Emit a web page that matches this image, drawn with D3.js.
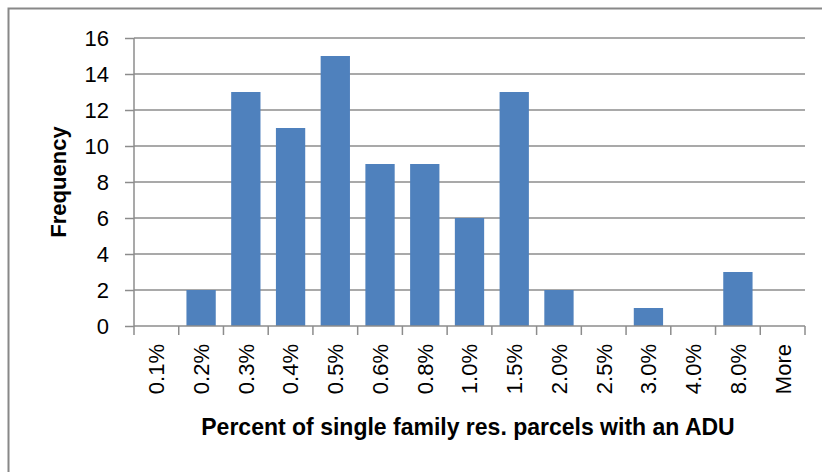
<!DOCTYPE html>
<html><head><meta charset="utf-8">
<script src="https://cdn.jsdelivr.net/npm/d3@7"></script>
<style>body{margin:0;background:#fff}svg{display:block}text{font-family:"Liberation Sans",Arial,sans-serif;fill:#000}</style>
</head><body><svg id="c" width="822" height="472"></svg>
<script>
const categories = ["0.1%","0.2%","0.3%","0.4%","0.5%","0.6%","0.8%","1.0%","1.5%","2.0%","2.5%","3.0%","4.0%","8.0%","More"];
const frequency = [0,2,13,11,15,9,9,6,13,2,0,1,0,3,0];
const yTicks = [0,2,4,6,8,10,12,14,16];
const xTitle = "Percent of single family res. parcels with an ADU";
const yTitle = "Frequency";

const svg = d3.select("#c");
const m = {l:134, r:805, t:38, b:326};
svg.append("rect").attr("x",8.5).attr("y",8.5).attr("width",900).attr("height",900)
  .attr("fill","none").attr("stroke","#888").attr("stroke-width",2);

const x = d3.scaleBand().domain(categories).range([m.l,m.r]).paddingInner(0.345).paddingOuter(0.1725);
const xb = d3.scaleBand().domain(categories).range([m.l,m.r]);
const y = d3.scaleLinear().domain([0,16]).range([m.b,m.t]);

svg.append("g").selectAll("line").data(yTicks.filter(d=>d>0)).join("line")
  .attr("x1",m.l).attr("x2",m.r).attr("y1",d=>y(d)).attr("y2",d=>y(d))
  .attr("stroke","#8c8c8c").attr("stroke-width",1.5);

svg.append("g").selectAll("rect").data(categories.map((c,i)=>({c,v:frequency[i]}))).join("rect")
  .attr("x",d=>x(d.c)).attr("width",x.bandwidth())
  .attr("y",d=>y(d.v)).attr("height",d=>y(0)-y(d.v))
  .attr("fill","#4f81bd");

const ya = svg.append("g").attr("transform",`translate(${m.l},0)`)
  .call(d3.axisLeft(y).tickValues(yTicks).tickSize(9).tickPadding(16).tickFormat(d3.format("d")));
ya.select(".domain").attr("stroke","#8c8c8c").attr("stroke-width",1.5).attr("d",`M0,${m.t}V${m.b}`);
ya.selectAll(".tick line").attr("stroke","#8c8c8c").attr("stroke-width",1.5);
ya.selectAll("text").style("font-family","Liberation Sans").style("font-size","22px").attr("dy","0.36em");

const xa = svg.append("g").attr("transform",`translate(0,${m.b})`)
  .call(d3.axisBottom(xb).tickSize(0).tickFormat(d=>d));
xa.select(".domain").attr("stroke","#8c8c8c").attr("stroke-width",1.5).attr("d",`M${m.l},0H${m.r}`);
xa.selectAll(".tick line").remove();
svg.append("g").selectAll("line").data(d3.range(categories.length+1)).join("line")
  .attr("x1",i=>m.l+i*xb.step()).attr("x2",i=>m.l+i*xb.step())
  .attr("y1",m.b).attr("y2",m.b+9).attr("stroke","#8c8c8c").attr("stroke-width",1.5);
xa.selectAll(".tick text").attr("transform","rotate(-90)").attr("text-anchor","end")
  .attr("x",-18).attr("y",0).attr("dy","0.36em")
  .style("font-family","Liberation Sans").style("font-size","22px");

svg.append("text").attr("x",468).attr("y",435).attr("text-anchor","middle")
  .style("font-size","23px").style("font-weight","bold").text(xTitle);
svg.append("text").attr("transform",`translate(66,182) rotate(-90)`).attr("text-anchor","middle")
  .style("font-size","22px").style("font-weight","bold").text(yTitle);
</script></body></html>
